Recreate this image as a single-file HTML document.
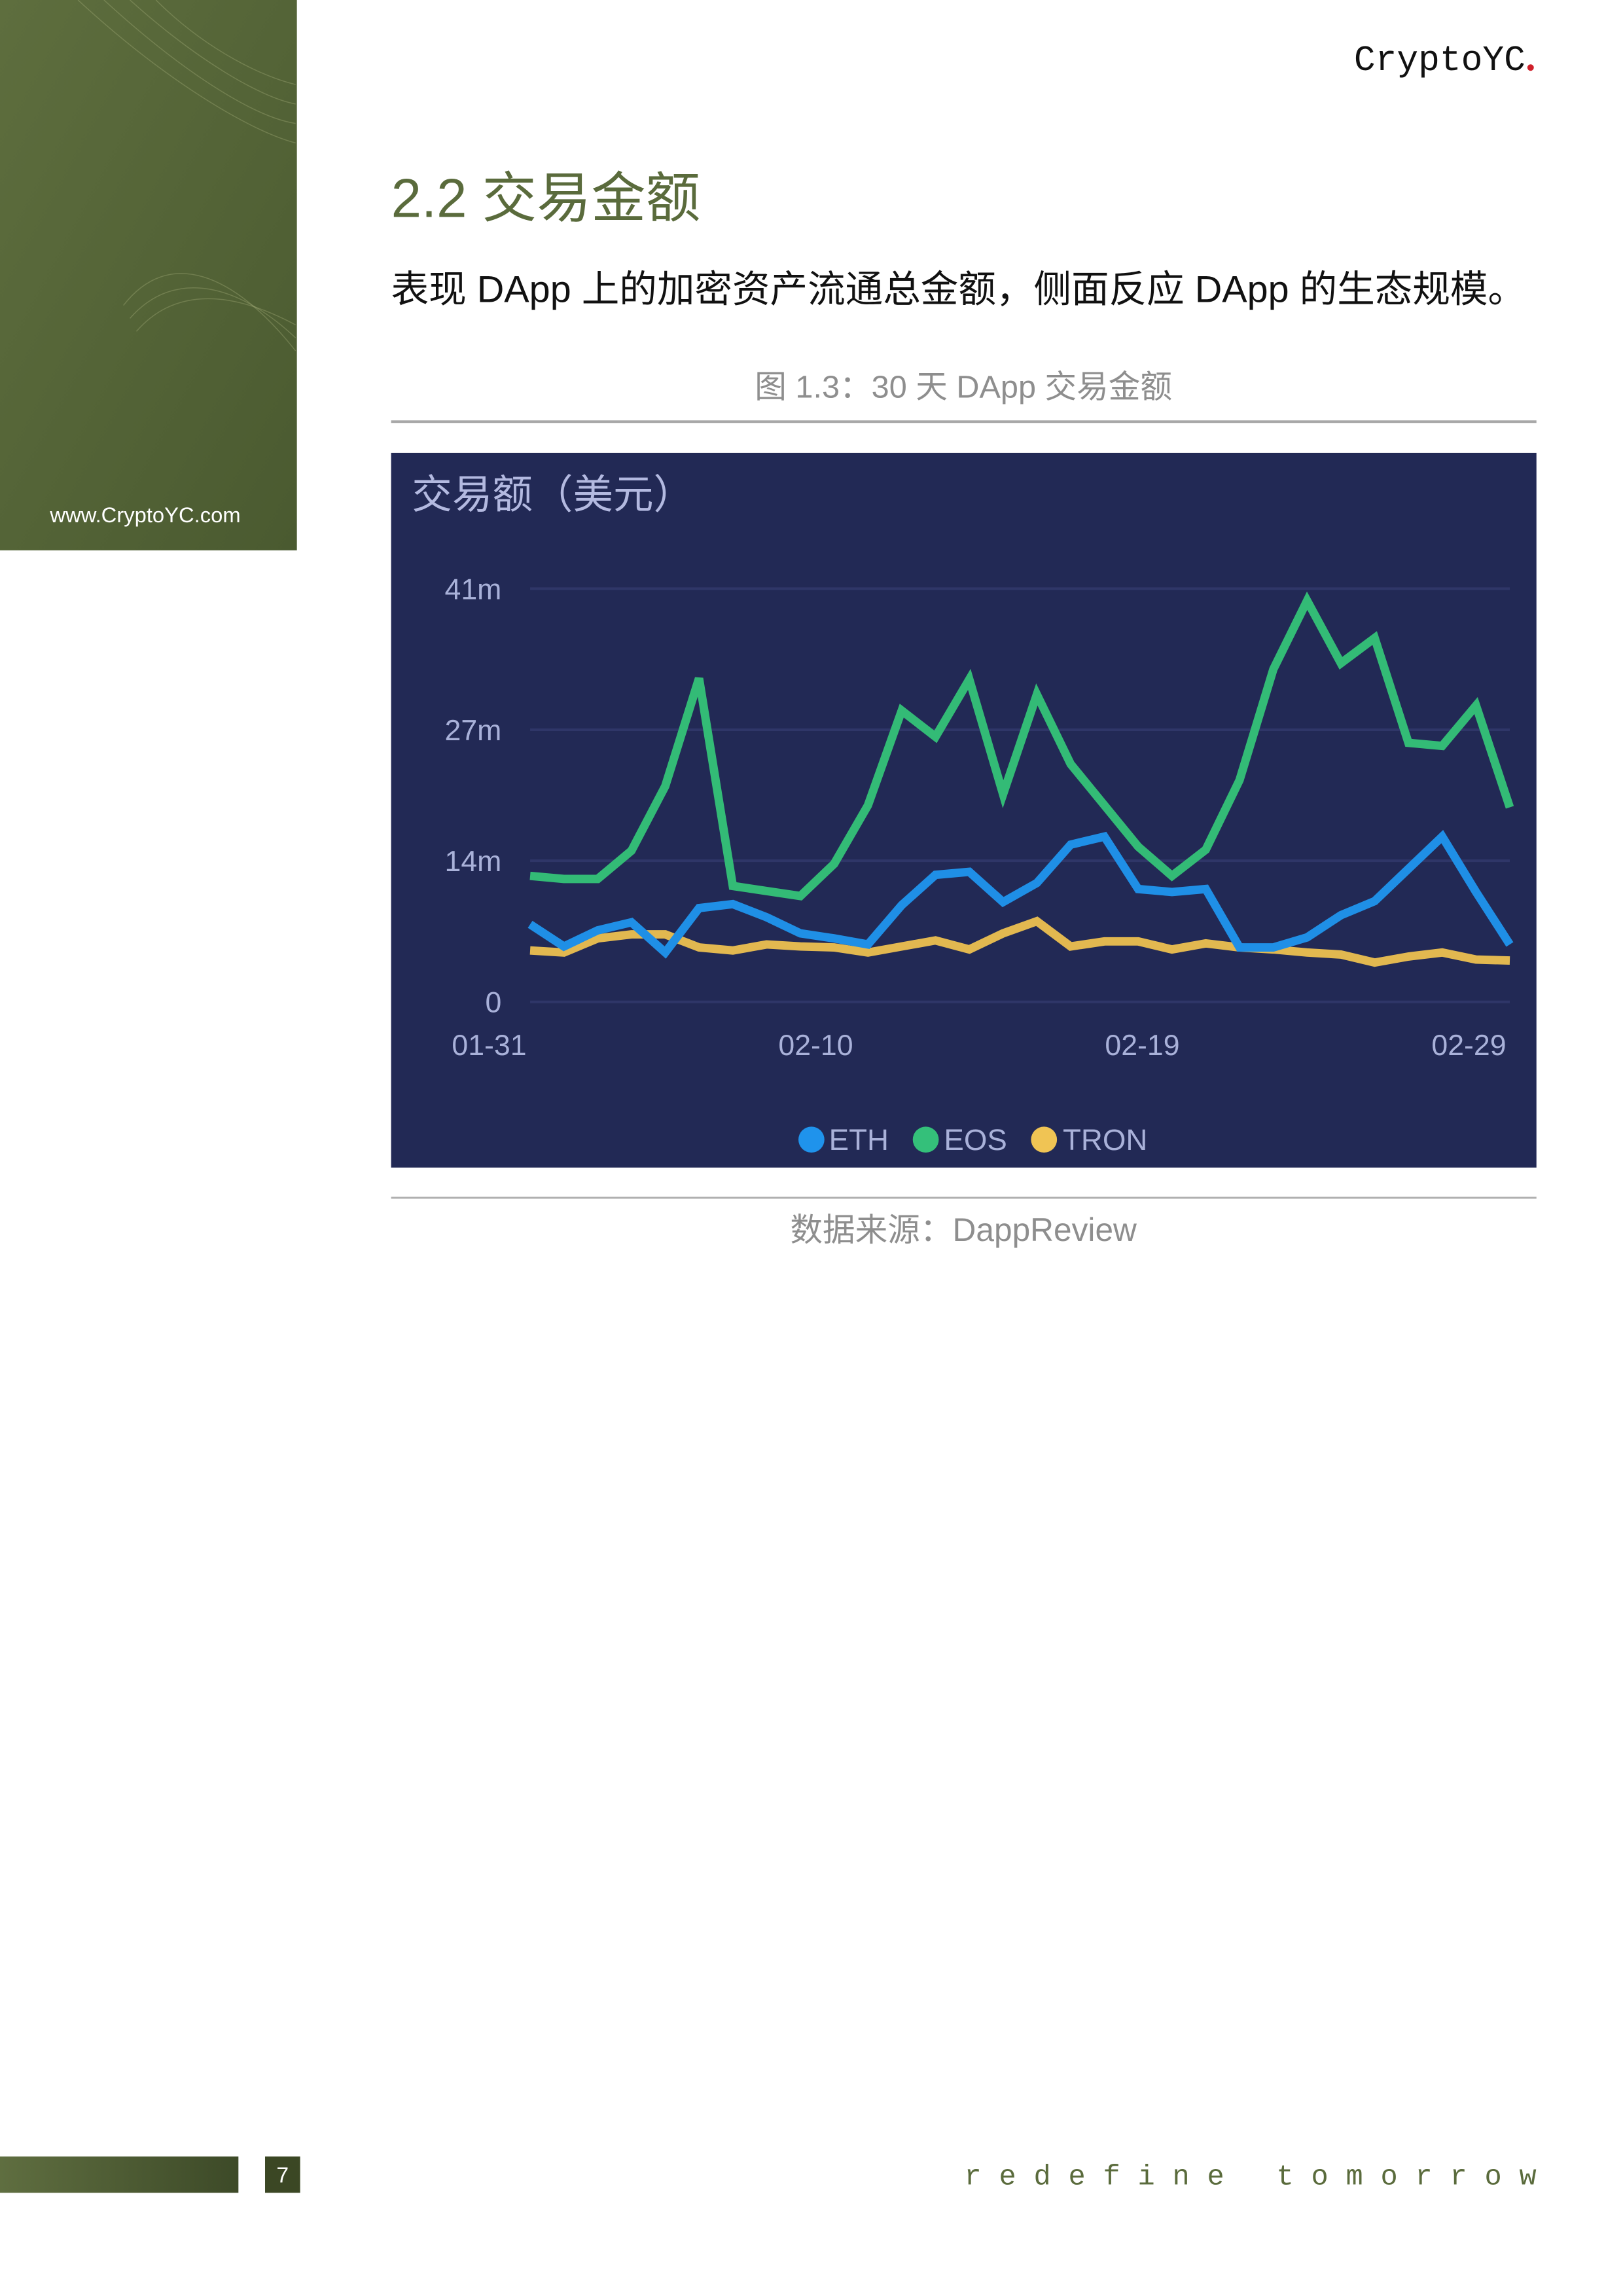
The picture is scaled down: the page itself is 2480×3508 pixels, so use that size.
<!DOCTYPE html>
<html><head><meta charset="utf-8"><style>
html,body{margin:0;padding:0;background:#fff;}
svg{display:block;}
text{font-family:"Liberation Sans","Noto Sans CJK SC",sans-serif;}
</style></head><body>
<svg id="page" width="2480" height="3508" viewBox="0 0 2480 3508" xmlns="http://www.w3.org/2000/svg">
<defs>
<linearGradient id="gp" x1="0" y1="0" x2="1" y2="1"><stop offset="0" stop-color="#5e6e3e"/><stop offset="1" stop-color="#4a5a30"/></linearGradient>
<linearGradient id="gb" x1="0" y1="0" x2="1" y2="0"><stop offset="0" stop-color="#5f6e40"/><stop offset="1" stop-color="#3d4a28"/></linearGradient>
</defs>
<g transform="scale(0.9927)">
<g>
<rect x="0" y="0" width="457" height="847" fill="url(#gp)"/>
<g stroke="#a9b27f" stroke-opacity="0.35" fill="none" stroke-width="1.5">
<path d="M120 0 C250 120 380 200 455 220"/><path d="M160 0 C280 110 390 180 455 190"/><path d="M200 0 C300 90 400 150 455 160"/><path d="M240 0 C320 80 410 120 455 130"/>
<path d="M190 470 C260 380 360 420 455 540"/><path d="M200 490 C270 410 370 440 455 520"/><path d="M210 510 C280 430 380 460 455 500"/>
</g>
<text x="77" y="804" font-size="33" fill="#ffffff">www.CryptoYC.com</text>
</g>
<text x="2348" y="108" font-size="55" text-anchor="end" fill="#111" style="font-family:'Liberation Mono','DejaVu Sans Mono',monospace">CryptoYC</text>
<circle cx="2356" cy="104" r="5" fill="#d0202a"/>
<text x="602" y="334" font-size="84" fill="#5a6b3c">2.2 交易金额</text>
<text x="602" y="465" font-size="58" fill="#111">表现 DApp 上的加密资产流通总金额，侧面反应 DApp 的生态规模。</text>
<text x="1483" y="612" font-size="49" fill="#8e8e8e" text-anchor="middle">图 1.3：30 天 DApp 交易金额</text>
<rect x="602" y="647" width="1763" height="4" fill="#a8a8a8"/>
<g id="chart">
<rect x="602" y="697" width="1763" height="1100" fill="#222955"/>
<text x="634" y="782" font-size="62" fill="#b3b9e0">交易额（美元）</text>
<g id="grid"></g><g id="lines"></g><g id="xlab"></g>
<g>
<g><circle cx="1249" cy="1754" r="20" fill="#1f93ec"/><text x="1276" y="1770" font-size="46" fill="#a9b1d9">ETH</text></g>
<g><circle cx="1425" cy="1754" r="20" fill="#34c07a"/><text x="1453" y="1770" font-size="46" fill="#a9b1d9">EOS</text></g>
<g><circle cx="1607" cy="1754" r="20" fill="#f0c454"/><text x="1636" y="1770" font-size="46" fill="#a9b1d9">TRON</text></g>
</g>
</g>
<rect x="602" y="1842" width="1763" height="3" fill="#b0b0b0"/>
<text x="1483" y="1910" font-size="50" fill="#8e8e8e" text-anchor="middle">数据来源：DappReview</text>
<g>
<rect x="0" y="3319" width="367" height="56" fill="url(#gb)"/>
<rect x="408" y="3319" width="54" height="56" fill="#3b4724"/>
<text x="435" y="3359" font-size="34" fill="#fff" text-anchor="middle">7</text>
<text x="2392" y="3362" font-size="44" fill="#5a6b3c" text-anchor="end" letter-spacing="27" style="font-family:'Liberation Mono',monospace">redefine tomorrow</text>
</g>
</g>
</svg>
<script>
const categories = ["01-31","02-01","02-02","02-03","02-04","02-05","02-06","02-07","02-08","02-09","02-10","02-11","02-12","02-13","02-14","02-15","02-16","02-17","02-18","02-19","02-20","02-21","02-22","02-23","02-24","02-25","02-26","02-27","02-28","02-29"];
const ethValues = [7.7,5.5,7.1,7.9,4.9,9.3,9.7,8.4,6.8,6.3,5.7,9.6,12.6,12.9,9.9,11.8,15.6,16.4,11.2,10.9,11.2,5.4,5.4,6.4,8.6,10.0,13.2,16.4,10.9,5.7];
const eosValues = [12.5,12.2,12.2,15.0,21.4,32.1,11.5,11.0,10.5,13.7,19.5,28.9,26.3,32.0,20.6,30.5,23.6,19.5,15.4,12.5,15.1,22.0,33.0,39.8,33.6,36.1,25.7,25.4,29.4,19.3];
const tronValues = [5.1,4.9,6.3,6.7,6.7,5.4,5.1,5.7,5.5,5.4,4.9,5.5,6.1,5.2,6.8,8.0,5.5,6.0,6.0,5.2,5.8,5.4,5.2,4.9,4.7,3.9,4.5,4.9,4.2,4.1];
const yTicks = [0,14,27,41];
const yTickLabels = ["0","14m","27m","41m"];
const xTickLabels = ["01-31","02-10","02-19","02-29"];

const NS="http://www.w3.org/2000/svg";
const X0=816,X1=2324,Y0=1542,Y1=906,YMAX=41;
const xs=i=>X0+(X1-X0)*i/(categories.length-1);
const ys=v=>Y0-(Y0-Y1)*v/YMAX;
function mk(tag,attrs,parent){const e=document.createElementNS(NS,tag);for(const k in attrs)e.setAttribute(k,attrs[k]);parent.appendChild(e);return e;}
const grid=document.getElementById('grid');
yTicks.forEach((t,i)=>{
  const l=mk('line',{x1:X0,x2:X1,y1:ys(t),y2:ys(t),stroke:'#2f3668','stroke-width':4},grid);
  
  
  const tx=mk('text',{x:772,y:ys(t)+16,'font-size':45,fill:'#a9b1d9','text-anchor':'end'},grid);
  tx.textContent=yTickLabels[i];
  
  
});
const xl=document.getElementById('xlab');
xTickLabels.forEach((lab,i)=>{
  const x=(X0-63)+((X1-63)-(X0-63))*i/(xTickLabels.length-1);
  const t=mk('text',{x:x,y:1624,'font-size':45,fill:'#a9b1d9','text-anchor':'middle'},xl);
  t.textContent=lab;
  
  
});
const lines=document.getElementById('lines');
[[tronValues,'#e2b850','tron'],[ethValues,'#1f8fe6','eth'],[eosValues,'#33bb76','eos']].forEach(([vals,c,n])=>{
  const d=vals.map((v,i)=>(i?'L':'M')+xs(i).toFixed(1)+' '+ys(v).toFixed(1)).join(' ');
  const p=mk('path',{d:d,fill:'none',stroke:c,'stroke-width':13,'stroke-linejoin':'miter'},lines);
  
  
});
</script>
</body></html>
